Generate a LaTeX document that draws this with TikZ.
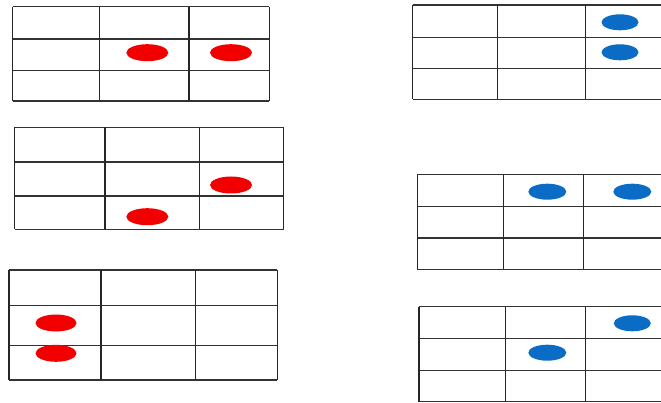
\documentclass[tikz,border=0pt]{standalone}
\definecolor{dotred}{HTML}{F20000}
\definecolor{dotblue}{HTML}{0A6CC4}
\tikzset{
  vline/.style={line width=1.5pt, draw=black!85},
  hline/.style={line width=1.2pt, draw=black!80},
  reddot/.style={fill=dotred, draw=none},
  bluedot/.style={fill=dotblue, draw=none}
}
% #1..#4 : x positions, #5..#8 : y positions (pixels, downwards), #9 right end of horizontals
\newcommand{\mygrid}[9]{%
  \foreach \yy in {#5,#6,#7,#8} \draw[hline] (#1,-\yy) -- (#9,-\yy);
  \foreach \xx in {#1,#2,#3} \draw[vline] (\xx,-#5) -- (\xx,-#8);
}
\newcommand{\mygridclosed}[8]{%
  \mygrid{#1}{#2}{#3}{#4}{#5}{#6}{#7}{#8}{#4}
  \draw[vline] (#4,-#5) -- (#4,-#8);
}
\begin{document}
\begin{tikzpicture}[x=1pt,y=1pt]
\useasboundingbox (0,0) rectangle (661,-403);
\fill[white] (0,0) rectangle (661,-403);
% left grids
\mygridclosed{12.7}{99.3}{189}{269.3}{6.7}{39}{70.3}{101}
\mygridclosed{14.7}{105}{199.3}{283.7}{127.3}{162}{196}{229.3}
\mygridclosed{9}{101}{195.3}{277.3}{270}{305.3}{345.3}{380}
% right grids (cut at the right border)
\mygrid{412.7}{497.3}{585.7}{661}{5}{37.3}{68.3}{99.3}{661}
\mygrid{417.3}{503.3}{583.3}{661}{174.7}{206.3}{238}{269.3}{661}
\mygrid{419}{505.7}{585.7}{661}{306.7}{338.3}{370.3}{401.7}{661}
% red dots
\path[reddot] (147.3,-52.7) ellipse [x radius=21, y radius=8.5];
\path[reddot] (231,-52.7) ellipse [x radius=21, y radius=8.5];
\path[reddot] (231,-185) ellipse [x radius=21, y radius=8.5];
\path[reddot] (147.3,-216.7) ellipse [x radius=21, y radius=8.5];
\path[reddot] (56,-323) ellipse [x radius=20.5, y radius=8.5];
\path[reddot] (56,-353.3) ellipse [x radius=20.5, y radius=8.5];
% blue dots
\path[bluedot] (620,-22.3) ellipse [x radius=18.5, y radius=8];
\path[bluedot] (620,-52.3) ellipse [x radius=18.5, y radius=8];
\path[bluedot] (547.3,-191.7) ellipse [x radius=19, y radius=8];
\path[bluedot] (632.3,-191.7) ellipse [x radius=19, y radius=8];
\path[bluedot] (632.3,-323.3) ellipse [x radius=18.5, y radius=8];
\path[bluedot] (547.3,-352.7) ellipse [x radius=19, y radius=8];
\end{tikzpicture}
\end{document}
